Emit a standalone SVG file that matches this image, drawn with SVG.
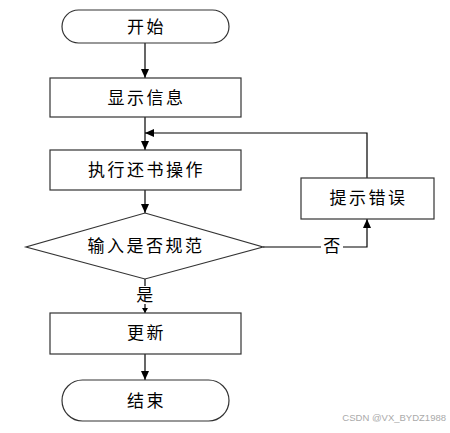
<svg xmlns="http://www.w3.org/2000/svg" width="450" height="433" viewBox="0 0 450 433">
<defs>
<marker id="arr" markerWidth="10" markerHeight="10" refX="9" refY="5" orient="auto" markerUnits="userSpaceOnUse">
<path d="M0,1 L9,5 L0,9 Z" fill="#000"/>
</marker>
<marker id="arrs" markerWidth="6" markerHeight="6" refX="5" refY="3" orient="auto" markerUnits="userSpaceOnUse">
<path d="M0,0 L5,3 L0,6 Z" fill="#000"/>
</marker>
<style>
.s{fill:#fff;stroke:#333;stroke-width:1.2}
.t{font-family:"Liberation Serif","Noto Sans CJK SC",serif;font-size:17px;letter-spacing:2.5px;text-anchor:middle;dominant-baseline:central;fill:#000}
.c{fill:none;stroke:#000;stroke-width:1.2}
</style>
</defs>
<rect width="450" height="433" fill="#fff"/>
<g id="connectors">
<line class="c" x1="145" y1="43" x2="145" y2="78" marker-end="url(#arr)"/>
<line class="c" x1="145" y1="117" x2="145" y2="150" marker-end="url(#arr)"/>
<line class="c" x1="145" y1="190" x2="145" y2="213" marker-end="url(#arr)"/>
<polyline class="c" points="263,247 367,247 367,219" marker-end="url(#arr)"/>
<polyline class="c" points="367,178 367,133 145,133" marker-end="url(#arr)"/>
<line class="c" x1="145" y1="279" x2="145" y2="313" marker-end="url(#arrs)"/>
<line class="c" x1="145" y1="354" x2="145" y2="380" marker-end="url(#arr)"/>
<rect x="321" y="237" width="22" height="19" fill="#fff"/>
<text class="t" x="333" y="246">否</text>
<rect x="135" y="286" width="22" height="18" fill="#fff"/>
<text class="t" x="146" y="295">是</text>
</g>
<g id="start">
<rect class="s" x="62" y="10" width="167" height="33" rx="16.5"/>
<text class="t" x="146.5" y="27">开始</text>
</g>
<g id="show">
<rect class="s" x="50" y="78" width="191" height="39"/>
<text class="t" x="146.5" y="98">显示信息</text>
</g>
<g id="exec">
<rect class="s" x="50" y="150" width="191" height="40"/>
<text class="t" x="146.5" y="170">执行还书操作</text>
</g>
<g id="check">
<polygon class="s" points="145,213 263,247 145,279 26,247"/>
<text class="t" x="146" y="246">输入是否规范</text>
</g>
<g id="error">
<rect class="s" x="301" y="178" width="133" height="41"/>
<text class="t" x="368.5" y="198.5">提示错误</text>
</g>
<g id="update">
<rect class="s" x="50" y="313" width="191" height="41"/>
<text class="t" x="146.5" y="333.5">更新</text>
</g>
<g id="end">
<rect class="s" x="62" y="380" width="167" height="41" rx="20.5"/>
<text class="t" x="146.5" y="401">结束</text>
</g>
<text x="446" y="421" font-family="Liberation Sans, sans-serif" font-size="9.5" fill="#aaa" text-anchor="end">CSDN @VX_BYDZ1988</text>
</svg>
